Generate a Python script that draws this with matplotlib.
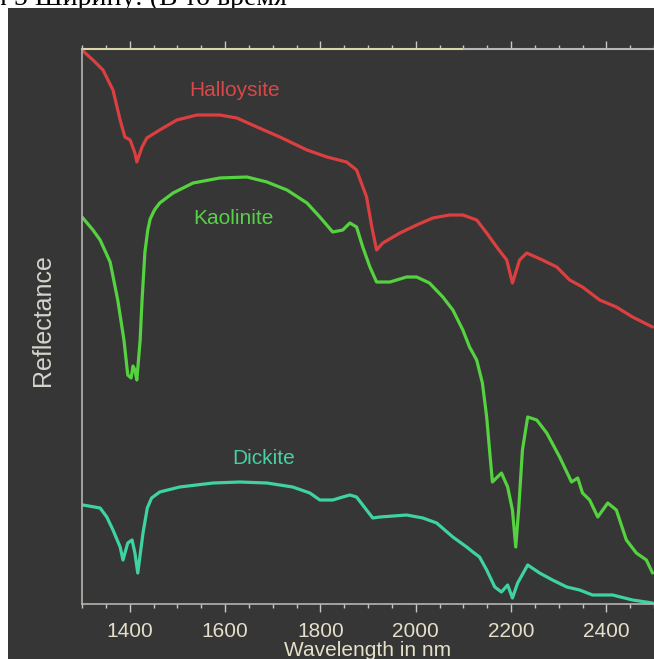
import matplotlib
matplotlib.use("Agg")
from matplotlib import pyplot as plt
from matplotlib.patches import Rectangle

# reflectance spectra, arbitrary units (0 = bottom of frame)
halloysite_nm = [1300, 1323, 1344, 1365, 1380, 1390, 1401, 1411, 1415, 1426, 1436, 1463, 1499,
                 1541, 1589, 1625, 1667, 1715, 1772, 1814, 1855, 1876, 1897, 1908, 1918, 1931,
                 1967, 2002, 2036, 2071, 2099, 2128, 2149, 2170, 2191, 2203, 2218, 2233, 2266,
                 2296, 2323, 2350, 2386, 2421, 2455, 2497]
halloysite = [554, 544, 534, 514, 484, 467, 464, 451, 442, 457, 466, 474, 484,
              489, 489, 486, 477, 467, 454, 447, 442, 434, 407, 377, 354, 361,
              371, 379, 386, 389, 389, 384, 371, 357, 344, 321, 344, 351, 344,
              337, 324, 317, 304, 297, 287, 277]

kaolinite_nm = [1300, 1323, 1338, 1359, 1375, 1388, 1396, 1403, 1407, 1411, 1415, 1422, 1426,
                1432, 1438, 1443, 1452, 1463, 1491, 1533, 1589, 1646, 1688, 1730, 1772, 1799,
                1826, 1847, 1862, 1876, 1889, 1904, 1918, 1946, 1981, 2002, 2029, 2057, 2078,
                2099, 2113, 2128, 2140, 2149, 2155, 2161, 2180, 2193, 2203, 2210, 2216, 2224,
                2235, 2254, 2275, 2302, 2327, 2340, 2350, 2365, 2382, 2403, 2421, 2442, 2463,
                2484, 2497]
kaolinite = [387, 374, 364, 342, 304, 264, 229, 226, 238, 234, 224, 264, 304,
             352, 374, 385, 394, 401, 411, 421, 426, 427, 422, 414, 401, 387,
             372, 374, 381, 377, 357, 337, 322, 322, 327, 327, 321, 307, 294,
             274, 257, 244, 221, 187, 154, 122, 131, 117, 94, 57, 94, 154,
             187, 184, 171, 147, 122, 126, 111, 104, 87, 101, 94, 64, 51,
             44, 31]

dickite_nm = [1302, 1338, 1352, 1365, 1380, 1386, 1396, 1405, 1411, 1417, 1428, 1437, 1446,
              1463, 1505, 1575, 1631, 1688, 1742, 1778, 1799, 1826, 1847, 1862, 1876, 1897,
              1910, 1925, 1981, 2015, 2044, 2078, 2107, 2120, 2134, 2149, 2166, 2180, 2193,
              2203, 2214, 2235, 2260, 2287, 2317, 2344, 2371, 2413, 2455, 2497]
dickite = [99, 96, 87, 74, 57, 44, 61, 64, 51, 31, 71, 96, 106,
           112, 117, 121, 122, 121, 117, 111, 104, 104, 107, 109, 107, 94,
           86, 87, 89, 86, 81, 67, 57, 52, 47, 34, 17, 12, 19,
           6, 21, 39, 31, 24, 17, 14, 9, 9, 4, 1]

tick_labels = ['1400', '1600', '1800', '2000', '2200', '2400']

bg = '#363636'
red = '#dc3f3f'
green = '#55d23f'
teal = '#3fd3a2'

W, H = 654, 659
fig = plt.figure(figsize=(W / 100, H / 100), dpi=100)
fig.patch.set_facecolor('white')

# scanned page text cut off above the picture
fig.text(287 / W, 1 - 5 / H, 'ом 5 Ширину: (В то время', ha='right', va='baseline',
         fontsize=20, family=['Liberation Serif', 'DejaVu Serif'], color='black', zorder=-2)
fig.patches.append(Rectangle((8 / W, 0), 1, 1 - 8 / H, transform=fig.transFigure,
                             facecolor=bg, edgecolor='none', zorder=-1))

ax = fig.add_axes([82 / W, 55 / H, 572 / W, 555 / H])
ax.set_facecolor(bg)

ax.plot(halloysite_nm, halloysite, color=red, lw=2.3, solid_capstyle='round')
ax.plot(kaolinite_nm, kaolinite, color=green, lw=2.3, solid_capstyle='round')
ax.plot(dickite_nm, dickite, color=teal, lw=2.3, solid_capstyle='round')

ax.text(1620, 514, 'Halloysite', color='#d84848', fontsize=15, ha='center', va='center',
        family='Liberation Sans')
ax.text(1618, 386, 'Kaolinite', color='#58d048', fontsize=15, ha='center', va='center',
        family='Liberation Sans')
ax.text(1680, 146, 'Dickite', color='#48d0a0', fontsize=15, ha='center', va='center',
        family='Liberation Sans')

ax.set_xlim(1300, 2500)
ax.set_ylim(0, 555)

ax.set_xticks([1400, 1600, 1800, 2000, 2200, 2400])
ax.set_xticklabels(tick_labels, family='Liberation Sans', fontsize=15, color='#e4dfc8')
ax.set_xticks(range(1300, 2501, 50), minor=True)
ax.set_yticks([])
ax.tick_params(axis='x', which='major', direction='out', length=6, width=1,
               color='#c8c8c0', pad=7, top=True)
ax.tick_params(axis='x', which='minor', direction='out', length=3, width=1,
               color='#c8c8c0', top=True)

for s in ['left', 'bottom']:
    ax.spines[s].set_color('#b4b4b0')
    ax.spines[s].set_linewidth(1.2)
ax.spines['right'].set_color('#5a5a5a')
ax.spines['top'].set_visible(False)
# top frame line: yellowish then grey
ax.plot([0, 0.667], [1, 1], transform=ax.transAxes, color='#d8d8a6', lw=1.5, clip_on=False)
ax.plot([0.667, 1], [1, 1], transform=ax.transAxes, color='#b8b8b8', lw=1.5, clip_on=False)

fig.text(368 / W, 1 - 651 / H, 'Wavelength in nm', ha='center', va='center',
         fontsize=15, color='#e4dfc8', family='Liberation Sans')
fig.text(43 / W, 1 - 320 / H, 'Reflectance', ha='center', va='center', rotation=90,
         fontsize=18, color='#d4d4cc', family='Liberation Sans')

fig.savefig('out.png', dpi=100, facecolor=fig.get_facecolor())
